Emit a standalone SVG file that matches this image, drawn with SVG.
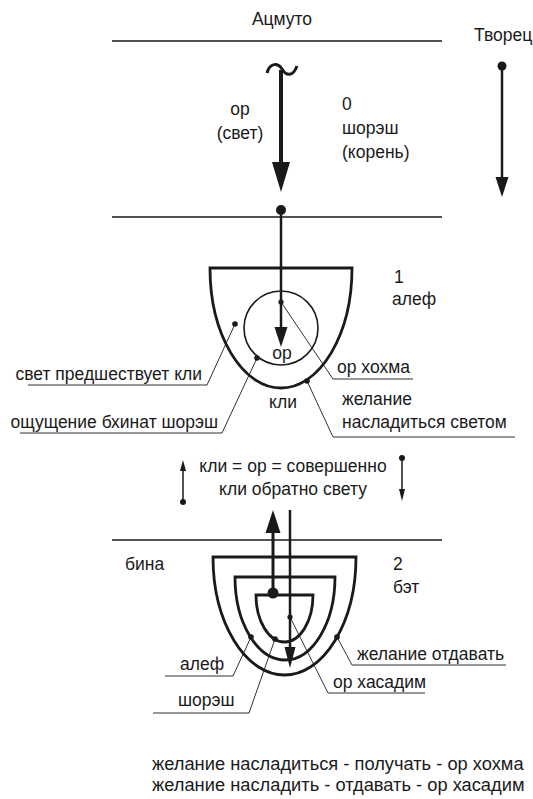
<svg xmlns="http://www.w3.org/2000/svg" width="533" height="799" viewBox="0 0 533 799">
<style>
text{font-family:"Liberation Sans",Arial,sans-serif;font-size:17.5px;fill:#1a1a1a}
.big{font-size:18.3px}
.lvl{stroke:#1a1a1a;stroke-width:1.5;fill:none}
.cup{stroke:#1a1a1a;stroke-width:2.8;fill:none}
.thin{stroke:#1a1a1a;stroke-width:0.9;fill:none}
.ray{stroke:#1a1a1a;fill:none}
.dot{fill:#1a1a1a}
</style>
<g id="levels">
<line class="lvl" x1="112" y1="41" x2="442" y2="41"/>
<line class="lvl" x1="112" y1="217" x2="442" y2="217"/>
<line class="lvl" x1="112" y1="540" x2="442" y2="540"/>
</g>
<g id="top-labels">
<text x="282" y="25" text-anchor="middle">Ацмуто</text>
<text x="474" y="41">Творец</text>
<text x="240" y="115" text-anchor="middle">ор</text>
<text x="240" y="139" text-anchor="middle">(свет)</text>
<text x="342" y="110">0</text>
<text x="342" y="134">шорэш</text>
<text x="342" y="158">(корень)</text>
</g>
<g id="level1">
<path class="cup" d="M210,268 H352 A71,120 0 0 1 210,268 Z"/>
<circle cx="281" cy="328" r="37" stroke="#1a1a1a" stroke-width="1.6" fill="none"/>
<text x="394" y="283">1</text>
<text x="392" y="305">алеф</text>
<text x="282" y="359" text-anchor="middle">ор</text>
<text x="283" y="408" text-anchor="middle">кли</text>
<text x="202" y="380" text-anchor="end">свет предшествует кли</text>
<text x="218" y="428" text-anchor="end">ощущение бхинат шорэш</text>
<text x="337" y="373">ор хохма</text>
<text x="342" y="405">желание</text>
<text x="342" y="428">насладиться светом</text>
</g>
<g id="middle">
<text x="293" y="472" text-anchor="middle">кли = ор = совершенно</text>
<text x="293" y="495" text-anchor="middle">кли обратно свету</text>
</g>
<g id="level2">
<path class="cup" d="M213,557 H356 A71.5,118 0 0 1 213,557 Z"/>
<path class="cup" d="M235,577 H335 A50,83 0 0 1 235,577 Z"/>
<path class="cup" d="M256,595 H313 A28.5,47 0 0 1 256,595 Z"/>
<text x="125" y="570">бина</text>
<text x="393" y="570">2</text>
<text x="393" y="593">бэт</text>
<text x="333" y="688">ор хасадим</text>
<text x="180" y="670">алеф</text>
<text x="178" y="706">шорэш</text>
<text x="357" y="660">желание отдавать</text>
</g>
<g id="bottom-text">
<text class="big" x="152" y="770">желание насладиться - получать - ор хохма</text>
<text class="big" x="152" y="791">желание насладить - отдавать - ор хасадим</text>
</g>
<g id="connectors">
<path d="M267,73 C270,62 278,63 282,69 C286,76 293,77 297,66" stroke="#1a1a1a" stroke-width="3" fill="none"/>
<line class="ray" x1="281" y1="70" x2="281" y2="165" stroke-width="4"/>
<polygon class="dot" points="272,162 290,162 281,192"/>
<circle class="dot" cx="502" cy="66" r="4.5"/>
<line class="ray" x1="502" y1="66" x2="502" y2="180" stroke-width="2.5"/>
<polygon class="dot" points="495.5,177 508.5,177 502,197"/>
<circle class="dot" cx="281" cy="210" r="5"/>
<line class="ray" x1="281" y1="210" x2="281" y2="330" stroke-width="2.5"/>
<polygon class="dot" points="274.5,327 287.5,327 281,347"/>
<circle class="dot" cx="281" cy="302" r="2.6"/>
<polyline class="thin" points="281,302 333,379 413,379"/>
<circle class="dot" cx="235" cy="324" r="2.8"/>
<polyline class="thin" points="235,324 207,385 28,385"/>
<circle class="dot" cx="257" cy="358" r="2.8"/>
<polyline class="thin" points="257,358 222,433 20,433"/>
<circle class="dot" cx="307" cy="381" r="2.8"/>
<polyline class="thin" points="307,381 333,437 515,437"/>
<circle class="dot" cx="183" cy="502" r="3"/>
<line class="ray" x1="183" y1="502" x2="183" y2="468" stroke-width="1.5"/>
<polygon class="dot" points="180,471 186,471 183,460"/>
<circle class="dot" cx="402" cy="458" r="3"/>
<line class="ray" x1="402" y1="458" x2="402" y2="492" stroke-width="1.5"/>
<polygon class="dot" points="399,489 405,489 402,501"/>
<line class="ray" x1="273" y1="593" x2="273" y2="530" stroke-width="3"/>
<polygon class="dot" points="265.5,533 280.5,533 273,510"/>
<circle class="dot" cx="273" cy="593" r="5.5"/>
<line class="ray" x1="290" y1="510" x2="290" y2="650" stroke-width="2.5"/>
<polygon class="dot" points="284.5,647 295.5,647 290,668"/>
<circle class="dot" cx="290" cy="617" r="2.6"/>
<polyline class="thin" points="290,617 328,693 425,693"/>
<circle class="dot" cx="251" cy="637" r="2.8"/>
<polyline class="thin" points="251,637 233,676 165,676"/>
<circle class="dot" cx="275" cy="639" r="2.8"/>
<polyline class="thin" points="275,639 249,713 153,713"/>
<circle class="dot" cx="337" cy="637" r="2.8"/>
<polyline class="thin" points="337,637 352,665 506,665"/>
</g>
</svg>
